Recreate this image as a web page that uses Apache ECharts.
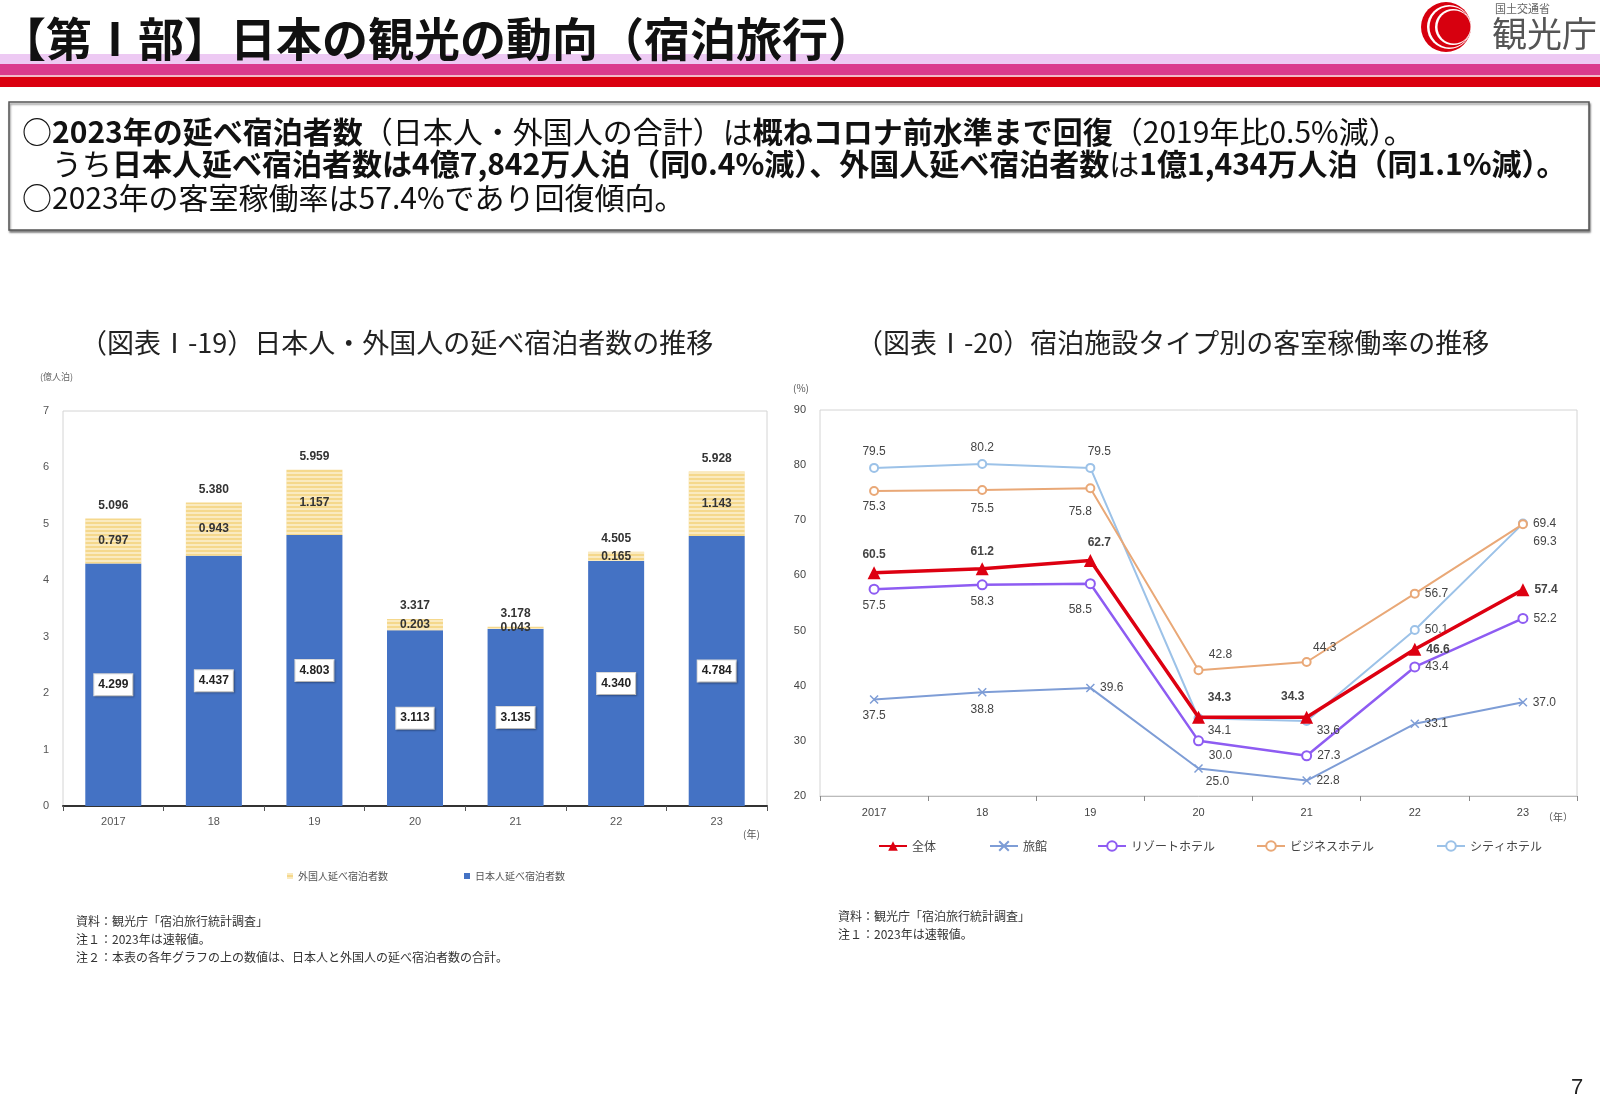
<!DOCTYPE html>
<html><head><meta charset="utf-8">
<script src="https://cdn.jsdelivr.net/npm/echarts@6/dist/echarts.min.js"></script>
<style>html,body{margin:0;padding:0;background:#fff}#c{width:1600px;height:1108px}</style>
</head><body><div id="c"></div>
<script>
// ---- data ----
const years = ['2017', '18', '19', '20', '21', '22', '23'];
const japanese = [4.299, 4.437, 4.803, 3.113, 3.135, 4.340, 4.784];
const foreign = [0.797, 0.943, 1.157, 0.203, 0.043, 0.165, 1.143];
const totals = [5.096, 5.380, 5.959, 3.317, 3.178, 4.505, 5.928];
const occAll = [60.5, 61.2, 62.7, 34.3, 34.3, 46.6, 57.4];
const occRyokan = [37.5, 38.8, 39.6, 25.0, 22.8, 33.1, 37.0];
const occResort = [57.5, 58.3, 58.5, 30.0, 27.3, 43.4, 52.2];
const occBusiness = [75.3, 75.5, 75.8, 42.8, 44.3, 56.7, 69.3];
const occCity = [79.5, 80.2, 79.5, 34.1, 33.6, 50.1, 69.4];
const seriesNames = ['全体', '旅館', 'リゾートホテル', 'ビジネスホテル', 'シティホテル'];

// ---- label placement (style) ----
const LP = {
  all: [['top',0,0],['top',0,0],['top',9,0],['top',21,-2],['top',-14,-3],['right',0,0],['right',0,0]],
  ryokan: [['bottom',0,0],['bottom',0,2],['right',0,0],['bottom',19,-2],['right',0,0],['right',0,0],['right',0,0]],
  resort: [['bottom',0,0],['bottom',0,0],['bottom',-10,9],['bottom',22,-2],['right',0,0],['right',0,0],['right',0,0]],
  business: [['bottom',0,0],['bottom',0,3],['bottom',-10,7],['top',22,0],['top',18,2],['right',0,0],['bottom',22,2]],
  city: [['top',0,0],['top',0,0],['top',9,0],['bottom',21,-4],['right',0,10],['right',0,0],['right',0,0]]
};
const NUMF = '"Liberation Sans","Noto Sans CJK JP",sans-serif';
const JPF = '"Noto Sans CJK JP",sans-serif';
const SF = 30; // summary font size

function withLabels(vals, lp, extra) {
  return vals.map((v, i) => ({ value: v, label: Object.assign({ position: lp[i][0], offset: [lp[i][1], lp[i][2]] }, extra || {}) }));
}
function lineSeries(name, vals, lp, color, width, symbol, size, bold) {
  return {
    name, type: 'line', xAxisIndex: 1, yAxisIndex: 1,
    data: withLabels(vals, lp),
    symbol, symbolSize: size,
    lineStyle: { color, width },
    itemStyle: symbol === 'emptyCircle' ? { color, borderWidth: 1.5 } : { color, borderColor: color, borderWidth: symbol.startsWith('path') ? 1.5 : 0 },
    label: { show: true, fontFamily: NUMF, fontSize: 12, color: '#444', fontWeight: bold ? 'bold' : 'normal', distance: 5,
      formatter: p => p.value.toFixed(1) },
    z: bold ? 5 : 3
  };
}

const chart = echarts.init(document.getElementById('c'));
const baseLegend = { orient: 'horizontal', itemGap: 4, textStyle: { fontFamily: JPF, fontSize: 12, color: '#444' }, selectedMode: false };
const richSum = {
  n: { fontFamily: JPF, fontSize: SF, fontWeight: 'normal', fill: '#111' },
  b: { fontFamily: JPF, fontSize: SF, fontWeight: 'bold', fill: '#111' }
};

const option = {
  animation: false,
  textStyle: { fontFamily: NUMF },
  grid: [
    { left: 63, top: 411, width: 704, height: 395, show: true, borderColor: '#d4d4d4', borderWidth: 1 },
    { left: 820, top: 410, width: 757, height: 386, show: true, borderColor: '#d4d4d4', borderWidth: 1 }
  ],
  xAxis: [
    { type: 'category', gridIndex: 0, data: years,
      axisLine: { lineStyle: { color: '#333', width: 2 } },
      axisTick: { show: true, length: 5, lineStyle: { color: '#555' } },
      axisLabel: { fontSize: 11, color: '#555', margin: 10, fontFamily: NUMF } },
    { type: 'category', gridIndex: 1, data: years, boundaryGap: true,
      axisLine: { lineStyle: { color: '#bbb', width: 1 } },
      axisTick: { show: true, length: 5, lineStyle: { color: '#888' } },
      axisLabel: { fontSize: 11, color: '#444', margin: 11, fontFamily: NUMF } }
  ],
  yAxis: [
    { type: 'value', gridIndex: 0, min: 0, max: 7, interval: 1,
      axisLine: { show: false }, axisTick: { show: false }, splitLine: { show: false },
      axisLabel: { fontSize: 11, color: '#555', margin: 14 } },
    { type: 'value', gridIndex: 1, min: 20, max: 90, interval: 10,
      axisLine: { show: false }, axisTick: { show: false }, splitLine: { show: false },
      axisLabel: { fontSize: 11, color: '#444', margin: 14 } }
  ],
  legend: [
    Object.assign({}, baseLegend, { data: ['外国人延べ宿泊者数'], left: 282, top: 866, icon: 'rect', itemWidth: 6, itemHeight: 6, textStyle: { fontFamily: JPF, fontSize: 10, color: '#555' } }),
    Object.assign({}, baseLegend, { data: ['日本人延べ宿泊者数'], left: 459, top: 866, icon: 'rect', itemWidth: 6, itemHeight: 6, textStyle: { fontFamily: JPF, fontSize: 10, color: '#555' } }),
    Object.assign({}, baseLegend, { data: ['全体'], left: 873, top: 835, itemWidth: 28, itemHeight: 12 }),
    Object.assign({}, baseLegend, { data: ['旅館'], left: 984, top: 835, itemWidth: 28, itemHeight: 12 }),
    Object.assign({}, baseLegend, { data: ['リゾートホテル'], left: 1092, top: 835, itemWidth: 28, itemHeight: 12 }),
    Object.assign({}, baseLegend, { data: ['ビジネスホテル'], left: 1251, top: 835, itemWidth: 28, itemHeight: 12 }),
    Object.assign({}, baseLegend, { data: ['シティホテル'], left: 1431, top: 835, itemWidth: 28, itemHeight: 12 })
  ],
  series: [
    { name: '日本人延べ宿泊者数', type: 'bar', stack: 'a', xAxisIndex: 0, yAxisIndex: 0, data: japanese, barWidth: 56,
      itemStyle: { color: '#4472C4' },
      label: { show: true, position: 'inside', formatter: p => p.value.toFixed(3), color: '#222', fontWeight: 'bold', fontSize: 12,
        backgroundColor: '#fff', padding: [5, 4, 4, 4], borderColor: '#ddd', borderWidth: 1,
        shadowColor: 'rgba(0,0,0,0.25)', shadowBlur: 2, shadowOffsetX: 1, shadowOffsetY: 1 } },
    { name: '外国人延べ宿泊者数', type: 'bar', stack: 'a', xAxisIndex: 0, yAxisIndex: 0, data: foreign, barWidth: 56,
      itemStyle: { color: '#F5D88C', decal: { symbol: 'rect', symbolSize: 1, dashArrayX: [1, 0], dashArrayY: [2, 2], rotation: 0, color: 'rgba(255,255,255,0.45)' } },
      label: { show: true, position: 'inside', formatter: p => p.value.toFixed(3), color: '#333', fontWeight: 'bold', fontSize: 12 } },
    { name: '合計', type: 'bar', xAxisIndex: 0, yAxisIndex: 0, data: totals, barWidth: 56, barGap: '-100%', silent: true,
      itemStyle: { color: 'rgba(0,0,0,0)' },
      label: { show: true, position: 'top', distance: 7, formatter: p => p.value.toFixed(3), color: '#333', fontWeight: 'bold', fontSize: 12 } },
    lineSeries('旅館', occRyokan, LP.ryokan, '#7E9DD6', 2, 'path://M0,0 L10,10 M10,0 L0,10', 8, false),
    lineSeries('シティホテル', occCity, LP.city, '#9CC2E8', 2, 'emptyCircle', 8, false),
    lineSeries('ビジネスホテル', occBusiness, LP.business, '#E9A877', 2, 'emptyCircle', 8, false),
    lineSeries('リゾートホテル', occResort, LP.resort, '#8E5CF2', 2.5, 'emptyCircle', 9, false),
    lineSeries('全体', occAll, LP.all, '#DD0011', 3.5, 'triangle', 13, true)
  ],
  graphic: [
    // header bands
    { type: 'rect', shape: { x: 0, y: 54, width: 1600, height: 10 }, style: { fill: '#EDC9F3' }, silent: true },
    { type: 'rect', shape: { x: 0, y: 64, width: 1600, height: 11 }, style: { fill: '#DA3A8D' }, silent: true },
    { type: 'rect', shape: { x: 0, y: 75, width: 1600, height: 2 }, style: { fill: '#F2B9C9' }, silent: true },
    { type: 'rect', shape: { x: 0, y: 77, width: 1600, height: 10 }, style: { fill: '#DA0010' }, silent: true },
    { type: 'text', x: 0, y: 39, z: 10, style: { text: '【第Ⅰ部】日本の観光の動向（宿泊旅行）', fontFamily: JPF, fontSize: 46, fontWeight: 'bold', fill: '#111', verticalAlign: 'middle' } },
    // logo
    { type: 'circle', shape: { cx: 1446, cy: 27, r: 25 }, style: { fill: '#D7000F' } },
    { type: 'circle', shape: { cx: 1449, cy: 27, r: 22 }, style: { fill: '#fff' } },
    { type: 'circle', shape: { cx: 1450, cy: 27, r: 20.5 }, style: { fill: '#D7000F' } },
    { type: 'circle', shape: { cx: 1453, cy: 27, r: 18 }, style: { fill: '#fff' } },
    { type: 'circle', shape: { cx: 1454, cy: 27, r: 16.5 }, style: { fill: '#D7000F' } },
    { type: 'text', x: 1495, y: 9, style: { text: '国土交通省', fontFamily: JPF, fontSize: 11, fill: '#666', verticalAlign: 'middle' } },
    { type: 'text', x: 1492, y: 34, style: { text: '観光庁', fontFamily: JPF, fontSize: 35, fill: '#555', verticalAlign: 'middle' } },
    // summary box
    { type: 'rect', shape: { x: 9, y: 102, width: 1580, height: 128 }, style: { fill: '#fff', stroke: '#555', lineWidth: 1.5, shadowColor: 'rgba(0,0,0,0.45)', shadowOffsetY: 2, shadowOffsetX: 1, shadowBlur: 2 } },
    { type: 'text', x: 22, y: 132, style: {
        text: '{n|○}{b|2023年の延べ宿泊者数}{n|（日本人・外国人の合計）は}{b|概ねコロナ前水準まで回復}{n|（2019年比0.5%減）。}',
        fontFamily: JPF, fontSize: SF, fill: '#111', verticalAlign: 'middle', rich: richSum } },
    { type: 'text', x: 22, y: 164, style: {
        text: '{n|　うち}{b|日本人延べ宿泊者数は4億7,842万人泊（同0.4%減）、外国人延べ宿泊者数}{n|は}{b|1億1,434万人泊（同1.1%減）。}',
        fontFamily: JPF, fontSize: SF, fill: '#111', verticalAlign: 'middle', rich: richSum } },
    { type: 'text', x: 22, y: 198, style: { text: '○2023年の客室稼働率は57.4%であり回復傾向。', fontFamily: JPF, fontSize: SF, fill: '#111', verticalAlign: 'middle' } },
    // chart titles
    { type: 'text', x: 80, y: 343, style: { text: '（図表Ⅰ-19）日本人・外国人の延べ宿泊者数の推移', fontFamily: JPF, fontSize: 27, fill: '#222', verticalAlign: 'middle' } },
    { type: 'text', x: 856, y: 343, style: { text: '（図表Ⅰ-20）宿泊施設タイプ別の客室稼働率の推移', fontFamily: JPF, fontSize: 27, fill: '#222', verticalAlign: 'middle' } },
    // units
    { type: 'text', x: 40, y: 377, style: { text: '(億人泊)', fontFamily: JPF, fontSize: 9, fill: '#666', verticalAlign: 'middle' } },
    { type: 'text', x: 743, y: 834, style: { text: '(年)', fontFamily: JPF, fontSize: 10, fill: '#555', verticalAlign: 'middle' } },
    { type: 'text', x: 793, y: 388, style: { text: '(%)', fontFamily: JPF, fontSize: 10, fill: '#555', verticalAlign: 'middle' } },
    { type: 'text', x: 1543, y: 817, style: { text: '（年）', fontFamily: JPF, fontSize: 10, fill: '#555', verticalAlign: 'middle' } },
    // footnotes
    { type: 'text', x: 76, y: 921, style: { text: '資料：観光庁「宿泊旅行統計調査」', fontFamily: JPF, fontSize: 12, fill: '#333', verticalAlign: 'middle' } },
    { type: 'text', x: 76, y: 939, style: { text: '注１：2023年は速報値。', fontFamily: JPF, fontSize: 12, fill: '#333', verticalAlign: 'middle' } },
    { type: 'text', x: 76, y: 957, style: { text: '注２：本表の各年グラフの上の数値は、日本人と外国人の延べ宿泊者数の合計。', fontFamily: JPF, fontSize: 12, fill: '#333', verticalAlign: 'middle' } },
    { type: 'text', x: 838, y: 916, style: { text: '資料：観光庁「宿泊旅行統計調査」', fontFamily: JPF, fontSize: 12, fill: '#333', verticalAlign: 'middle' } },
    { type: 'text', x: 838, y: 934, style: { text: '注１：2023年は速報値。', fontFamily: JPF, fontSize: 12, fill: '#333', verticalAlign: 'middle' } },
    // page number
    { type: 'text', x: 1577, y: 1088, style: { text: '7', fontFamily: NUMF, fontSize: 22, fill: '#222', align: 'center', verticalAlign: 'middle' } }
  ]
};
chart.setOption(option);
</script>
</body></html>
